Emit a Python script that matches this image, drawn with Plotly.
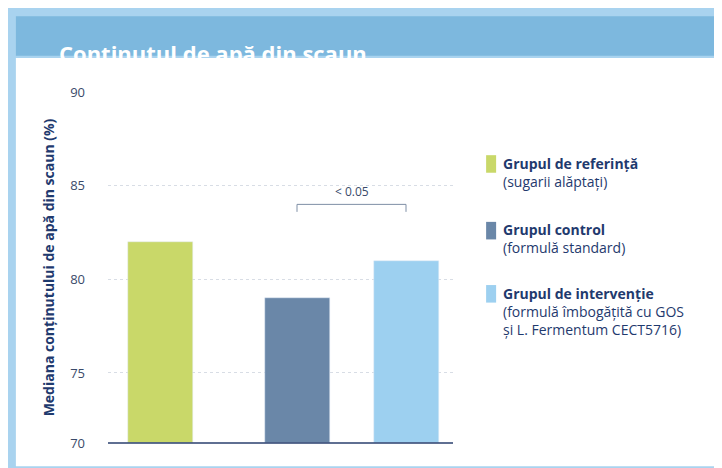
import plotly.graph_objects as go

groups = ["Grupul de referință", "Grupul control", "Grupul de intervenție"]
notes = ["(sugarii alăptați)", "(formulă standard)",
         "(formulă îmbogățită cu GOS<br>și L. Fermentum CECT5716)"]
values = [82.0, 79.0, 81.0]
colors = ["#c9d869", "#6a87a8", "#9dd0f0"]
x_pos = [152, 289, 398]
tick_labels = ["70", "75", "80", "85", "90"]
base = 71.26
tick_vals = [base, 75, 80, 85, 90]

fig = go.Figure()
fig.add_bar(x=x_pos, y=[v - base for v in values], base=base, width=65,
            marker=dict(color=colors), showlegend=False, hoverinfo="skip")

# p-value bracket
fig.add_shape(type="line", x0=x_pos[1], x1=x_pos[1], y0=83.6, y1=84.0, line=dict(color="#7f8fa6", width=1))
fig.add_shape(type="line", x0=x_pos[1], x1=x_pos[2], y0=84.0, y1=84.0, line=dict(color="#7f8fa6", width=1))
fig.add_shape(type="line", x0=x_pos[2], x1=x_pos[2], y0=83.6, y1=84.0, line=dict(color="#7f8fa6", width=1))
fig.add_annotation(x=(x_pos[1] + x_pos[2]) / 2, y=84.0, text="< 0.05", showarrow=False,
                   yanchor="bottom", yshift=2, font=dict(size=12, color="#3a4a6a"))

# frame and title band
fig.add_shape(type="rect", xref="paper", yref="paper", x0=-0.267, x1=1.774, y0=-0.066, y1=1.097,
              fillcolor="white", line=dict(width=0), layer="below")
fig.add_shape(type="rect", xref="paper", yref="paper", x0=-0.267, x1=1.774, y0=1.103, y1=1.216,
              fillcolor="#7db8de", line=dict(width=0), layer="below")
fig.add_annotation(xref="paper", yref="paper", x=0.757, y=1.16, text="<b>Conținutul de apă din scaun</b>",
                   showarrow=False, font=dict(size=22, color="white"))

# legend
leg_y = [0.81, 0.62, 0.44]
for g, n, c, ly in zip(groups, notes, colors, leg_y):
    fig.add_shape(type="rect", xref="paper", yref="paper", x0=1.096, x1=1.125, y0=ly - 0.04, y1=ly + 0.01,
                  fillcolor=c, line=dict(width=0))
    fig.add_annotation(xref="paper", yref="paper", x=1.14, y=ly + 0.02, xanchor="left", yanchor="top",
                       align="left", showarrow=False,
                       text=f"<b>{g}</b><br>{n}", font=dict(size=14, color="#1f3a6e"))

fig.update_layout(
    width=722, height=468,
    margin=dict(l=100, r=277, t=84, b=33),
    paper_bgcolor="#a9d3ef", plot_bgcolor="white",
    font=dict(family="Open Sans", color="#1f3a6e"),
    bargap=0,
)
fig.update_xaxes(range=[100, 445], showticklabels=False, showgrid=False, zeroline=False, automargin=False)
fig.update_yaxes(range=[base, 90], tickvals=tick_vals, ticktext=tick_labels, automargin=False,
                 showgrid=True, gridcolor="#d8dde5", griddash="dot", zeroline=False,
                 showline=False, ticks="", ticklabelstandoff=22,
                 tickfont=dict(size=13, color="#3a4a6a"),
                 title=dict(text="<b>Mediana conținutului de apă din scaun (%)</b>",
                            font=dict(size=14, color="#1f3a6e"), standoff=12))
fig.add_shape(type="line", xref="paper", yref="paper", x0=0, x1=1, y0=0, y1=0,
              line=dict(color="#2a3f6e", width=1.5))

fig.write_html("out.html")
